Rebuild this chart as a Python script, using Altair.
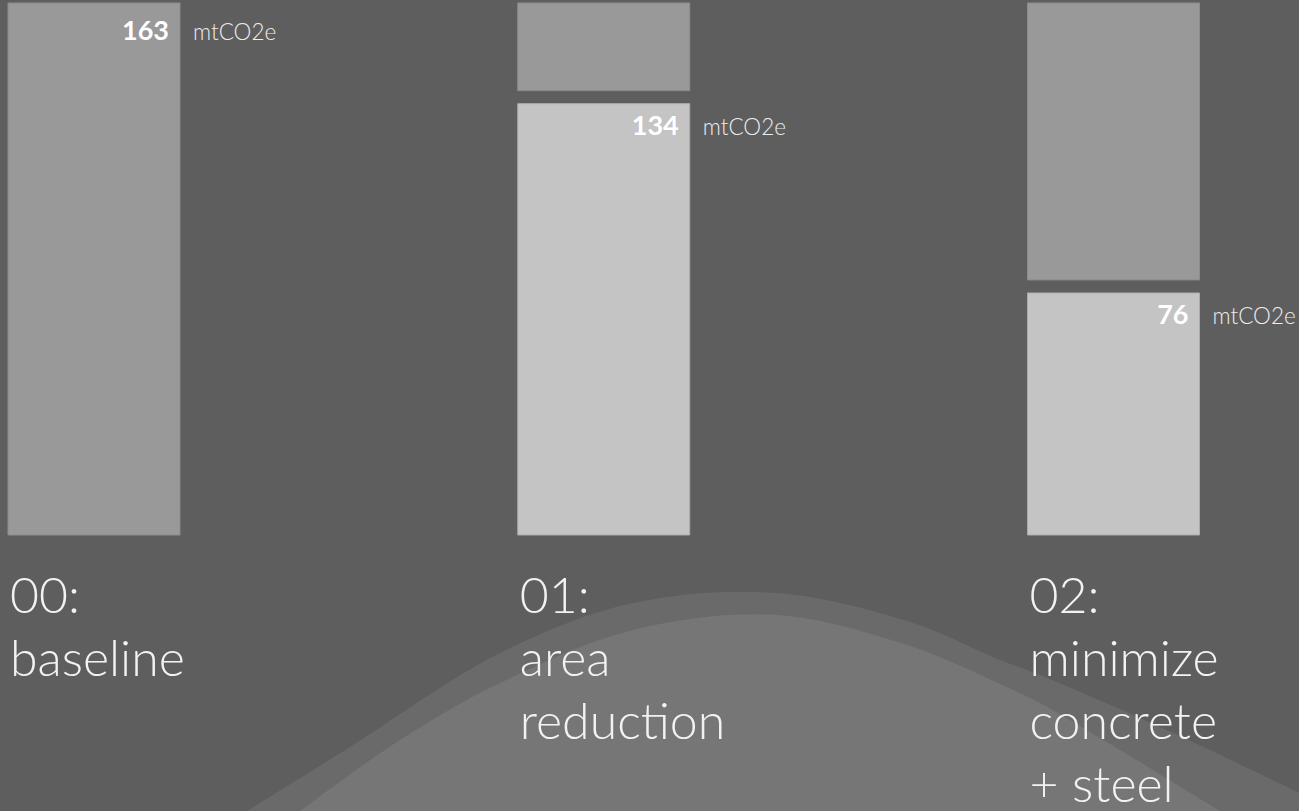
import altair as alt
import pandas as pd

# Scenario labels, embodied-carbon totals and the unit shown beside each value
scenario_labels = ["00:\nbaseline", "01:\narea\nreduction", "02:\nminimize\nconcrete\n+ steel"]
emissions = [163, 134, 76]
baseline_total = 163
unit_label = "mtCO2e"

# Decorative hills behind the labels (x across the canvas, height above the bottom edge)
outer_hill_x = [247, 350, 500, 633, 777, 913, 1000, 1040, 1180, 1299]
outer_hill_h = [0, 64, 158, 208, 218, 188, 151, 136, 75, 18]
inner_hill_x = [300, 400, 500, 633, 777, 913, 1000, 1040, 1130, 1220]
inner_hill_h = [0, 71, 128, 181, 196, 164, 127, 108, 55, 0]

BG = "#5e5e5e"
GRAY = "#999999"
LIGHT = "#c4c4c4"
W, H = 1299, 811

bars = pd.DataFrame({
    "idx": list(range(len(emissions))),
    "label": scenario_labels,
    "value": emissions,
    "total": [baseline_total] * len(emissions),
    "unit": [unit_label] * len(emissions),
})
outer = pd.DataFrame({"x": outer_hill_x, "h": outer_hill_h})
inner = pd.DataFrame({"x": inner_hill_x, "h": inner_hill_h})

# Scales: one bar every step, bars 172 px wide
xs = alt.Scale(domain=[-0.1844, 2.3639], nice=False, zero=False, padding=0)
ys = alt.Scale(domain=[-84.56, 163.92], nice=False, zero=False, padding=0)
hx = alt.Scale(domain=[0, W], nice=False, zero=False)
hy = alt.Scale(domain=[0, H], nice=False, zero=False)

def hill(df, color):
    return alt.Chart(df).mark_area(color=color, interpolate="catmull-rom", clip=True).encode(
        x=alt.X("x:Q", scale=hx, axis=None),
        y=alt.Y("h:Q", scale=hy, axis=None),
        y2=alt.datum(0),
    )

hill_outer = hill(outer, "#6a6a6a")
hill_inner = hill(inner, "#767676")

X = alt.X("idx:Q", scale=xs, axis=None)

base_bar = alt.Chart(bars).transform_filter("datum.idx == 0").mark_bar(
    width=172, color=GRAY, stroke="#8c8c8c", strokeWidth=1
).encode(x=X, y=alt.Y("value:Q", scale=ys, axis=None), y2=alt.datum(0))

reduction_bar = alt.Chart(bars).transform_filter("datum.idx > 0").mark_bar(
    width=172, color=GRAY, stroke="#8c8c8c", strokeWidth=1, y2Offset=-7
).encode(x=X, y=alt.Y("total:Q", scale=ys, axis=None), y2="value:Q")

remaining_bar = alt.Chart(bars).transform_filter("datum.idx > 0").mark_bar(
    width=172, color=LIGHT, stroke="#ababab", strokeWidth=1, yOffset=6
).encode(x=X, y=alt.Y("value:Q", scale=ys, axis=None), y2=alt.datum(0))

value_text = alt.Chart(bars).mark_text(
    align="right", baseline="alphabetic", dx=75, dy=37,
    font="Lato", fontWeight="bold", fontSize=27, color="#ffffff",
).encode(x=X, y=alt.Y("value:Q", scale=ys, axis=None), text="value:Q")

unit_text = alt.Chart(bars).mark_text(
    align="left", baseline="alphabetic", dx=99, dy=37,
    font="Lato", fontWeight=300, fontSize=22.5, color="#ececec",
).encode(x=X, y=alt.Y("value:Q", scale=ys, axis=None), text="unit:N")

label_text = alt.Chart(bars).mark_text(
    align="left", baseline="alphabetic", dx=-84, dy=78, lineBreak="\n", lineHeight=63,
    font="Lato", fontWeight=300, fontSize=50, color="#f2f2f2",
).encode(x=X, y=alt.Y("zero:Q", scale=ys, axis=None), text="label:N").transform_calculate(zero="0")

chart = alt.layer(
    hill_outer, hill_inner, base_bar, reduction_bar, remaining_bar,
    value_text, unit_text, label_text,
).resolve_scale(x="independent", y="independent").properties(
    width=W, height=H, background=BG, padding=0,
    autosize=alt.AutoSizeParams(type="none"),
).configure_view(stroke=None)

chart.save("out.html", embed_options={"renderer": "svg", "actions": False})
